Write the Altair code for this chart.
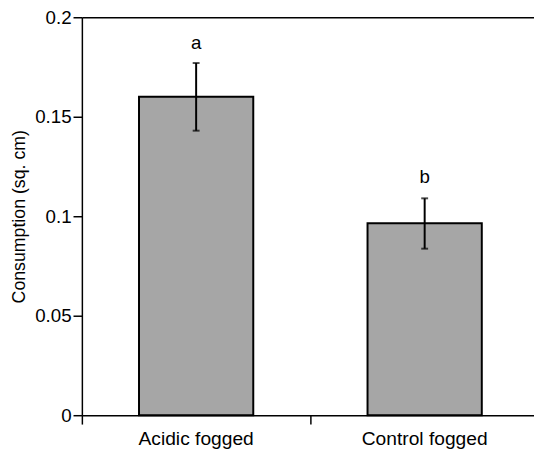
import altair as alt
import pandas as pd

groups = ["Acidic fogged", "Control fogged"]
means = [0.160, 0.0965]
err_low = [0.143, 0.0837]
err_high = [0.177, 0.109]
letters = ["a", "b"]
letter_pos = [0.187, 0.1198]

df = pd.DataFrame({
    "group": groups,
    "mean": means,
    "lo": err_low,
    "hi": err_high,
    "letter": letters,
    "lpos": letter_pos,
})

YTITLE = "Consumption (sq. cm)"
xscale = alt.Scale(domain=groups, range=[0, 464], paddingInner=0, paddingOuter=0)
yscale = alt.Scale(domain=[0, 0.2], nice=False, zero=True)

base = alt.Chart(df)

bars = base.mark_bar(
    width=alt.RelativeBandSize(0.5), color="#a6a6a6", stroke="black", strokeWidth=2
).encode(
    x=alt.X("group:N", sort=groups, scale=xscale,
            axis=alt.Axis(title=None, labelAngle=0, bandPosition=0, orient="bottom",
                          tickSize=9, tickWidth=1.5, labelPadding=6, labelFontSize=19.5)),
    y=alt.Y("mean:Q", scale=yscale,
            axis=alt.Axis(title=YTITLE, values=[0, 0.05, 0.1, 0.15, 0.2], format="~g",
                          tickSize=9, tickWidth=1.5, labelPadding=2, titlePadding=6,
                          labelFontSize=19)),
)

stems = base.mark_rule(color="black", strokeWidth=2).encode(
    x=alt.X("group:N", sort=groups, scale=xscale, axis=None),
    y=alt.Y("lo:Q", scale=yscale, title=YTITLE),
    y2="hi:Q",
)

cap_hi = base.mark_tick(color="black", size=7, thickness=2).encode(
    x=alt.X("group:N", sort=groups, scale=xscale, axis=None),
    y=alt.Y("hi:Q", scale=yscale, title=YTITLE),
)
cap_lo = base.mark_tick(color="black", size=7, thickness=2).encode(
    x=alt.X("group:N", sort=groups, scale=xscale, axis=None),
    y=alt.Y("lo:Q", scale=yscale, title=YTITLE),
)

labels = base.mark_text(fontSize=19, font="Liberation Sans", color="black", baseline="middle").encode(
    x=alt.X("group:N", sort=groups, scale=xscale,
            axis=alt.Axis(orient="top", labels=False, ticks=False, title=None)),
    y=alt.Y("lpos:Q", scale=yscale, title=YTITLE),
    text="letter:N",
)

chart = alt.layer(bars, stems, cap_hi, cap_lo, labels).resolve_axis(
    x="independent"
).properties(
    width=459,
    height=404,
    padding={"left": 75, "top": 6, "right": 0, "bottom": 38},
    autosize=alt.AutoSizeParams(type="none"),
).configure_view(stroke=None).configure_axis(
    domainColor="black", domainWidth=1.5, tickColor="black", labelColor="black",
    titleColor="black", labelFont="Liberation Sans", titleFont="Liberation Sans",
    titleFontSize=18, titleFontWeight="normal", grid=False,
)

chart.save("out.html", embed_options={"renderer": "svg", "actions": False})
